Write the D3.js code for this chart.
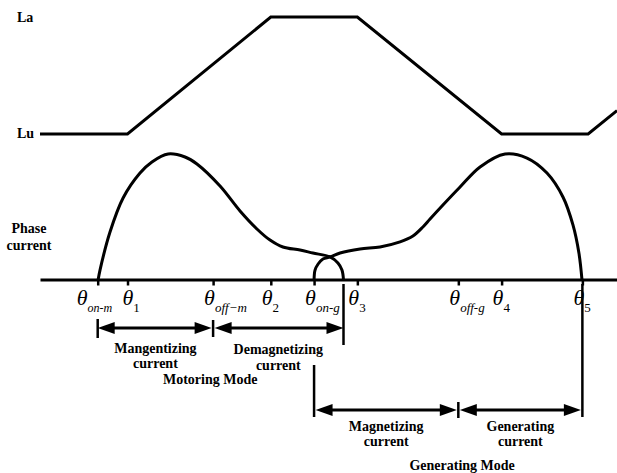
<!DOCTYPE html>
<html>
<head>
<meta charset="utf-8">
<script src="https://cdn.jsdelivr.net/npm/d3@7/dist/d3.min.js"></script>
<style>
  html, body { margin: 0; padding: 0; background: #fff; }
  svg { display: block; }
  text { font-family: "Liberation Serif", "Times New Roman", serif; fill: #000; }
  .lbl { font-weight: bold; font-size: 14px; }
</style>
</head>
<body>
<script>
// Rotor angle positions (arbitrary angle units) of the switching / profile points
const thetaSubs   = ["on-m", "1", "off\u2212m", "2", "on-g", "3", "off-g", "4", "5"];
const thetaAngles = [3.0, 4.55, 9.0, 12.0, 14.25, 16.5, 21.75, 24.0, 28.2];
const thetaItalicSub = [true, false, true, false, true, false, true, false, false];

// Phase inductance profile (0 = Lu, 1 = La)
const inductAngles = [0, 4.55, 12.0, 16.5, 24.0, 28.5, 30];
const inductValues = [0, 0, 1, 1, 0, 0, 0.2];
const inductLabels = ["Lu", "La"];

// Motoring phase current (normalised to its peak)
const motorAngles  = [3.02, 3.12, 3.64, 4.32, 5.20, 5.82, 6.66, 7.54, 8.16, 9.36, 10.40, 11.28, 11.96, 12.63, 13.52, 14.19, 15.08, 15.49, 15.70, 15.78];
const motorCurrent = [0, 0.079, 0.381, 0.651, 0.849, 0.937, 1.0, 0.976, 0.921, 0.746, 0.548, 0.405, 0.317, 0.262, 0.238, 0.214, 0.183, 0.135, 0.079, 0];

// Generating phase current (normalised to its peak)
const genAngles  = [14.25, 14.30, 14.46, 14.71, 15.08, 15.60, 16.64, 17.68, 18.72, 19.39, 19.91, 20.28, 20.95, 21.84, 22.88, 24.18, 25.32, 26.36, 27.19, 27.71, 28.02, 28.18];
const genCurrent = [0, 0.079, 0.127, 0.167, 0.183, 0.214, 0.246, 0.262, 0.302, 0.349, 0.421, 0.484, 0.595, 0.738, 0.897, 1.0, 0.968, 0.849, 0.659, 0.437, 0.214, 0];

// Conduction intervals
const motoringBounds   = [3.0, 9.0, 15.78];
const motoringLabels   = [["Mangentizing", "current"], ["Demagnetizing", "current"]];
const generatingBounds = [14.25, 21.75, 28.2];
const generatingLabels = [["Magnetizing", "current"], ["Generating", "current"]];
const modeNames  = ["Motoring Mode", "Generating Mode"];
const modeLabelAt = [8.85, 21.95];

const W = 617, H = 473;
const svg = d3.select("body").append("svg").attr("width", W).attr("height", H);

const x  = d3.scaleLinear().domain([0, 30]).range([40, 617]);
const yL = d3.scaleLinear().domain([0, 1]).range([134, 17]);
const yI = d3.scaleLinear().domain([0, 1]).range([280, 154]);
const axisY = yI(0);

// Inductance profile
const lineL = d3.line().x(d => x(d[0])).y(d => yL(d[1]));
svg.append("path")
  .attr("d", lineL(d3.zip(inductAngles, inductValues)))
  .attr("fill", "none").attr("stroke", "#000").attr("stroke-width", 3)
  .attr("stroke-linejoin", "miter");

svg.append("text").attr("class", "lbl").attr("x", 17).attr("y", yL(0) + 4).text(inductLabels[0]);
svg.append("text").attr("class", "lbl").attr("x", 17).attr("y", yL(1) + 5).text(inductLabels[1]);

// Phase current label
const pc = svg.append("text").attr("class", "lbl").attr("text-anchor", "middle");
pc.append("tspan").attr("x", 29).attr("y", 233).text("Phase");
pc.append("tspan").attr("x", 29).attr("y", 250).text("current");

// Angle axis with ticks at the switching angles
const axis = d3.axisBottom(x).tickValues(thetaAngles).tickSize(6).tickSizeOuter(0).tickFormat("");
const gAxis = svg.append("g").attr("transform", `translate(0,${axisY - 0.5})`).call(axis);
gAxis.select(".domain").attr("stroke", "#000").attr("stroke-width", 3);
gAxis.selectAll(".tick line").attr("stroke", "#000").attr("stroke-width", 2.5);

// Theta labels (the first two sit close together, so they are nudged apart)
const labelNudge = [-12, 4, 0, 0, 0, 0, 0, 0, 0];
thetaAngles.forEach((a, i) => {
  const t = svg.append("text").attr("x", x(a) - 9 + labelNudge[i]).attr("y", axisY + 25);
  t.append("tspan").attr("font-size", 22).attr("font-style", "italic").text("\u03B8");
  t.append("tspan").attr("font-size", i === 0 ? 12 : 13).attr("dy", 7)
    .attr("font-style", thetaItalicSub[i] ? "italic" : "normal")
    .text(thetaSubs[i]);
});

// Phase current curves
const lineI = d3.line().x(d => x(d[0])).y(d => yI(d[1])).curve(d3.curveCatmullRom.alpha(0.5));
[[motorAngles, motorCurrent], [genAngles, genCurrent]].forEach(([a, c]) => {
  svg.append("path")
    .attr("d", lineI(d3.zip(a, c)))
    .attr("fill", "none").attr("stroke", "#000").attr("stroke-width", 3);
});

// Double-headed interval arrows
function arrow(x0, x1, y) {
  const hl = 17, hw = 6;
  svg.append("line").attr("x1", x0 + hl - 2).attr("x2", x1 - hl + 2)
    .attr("y1", y).attr("y2", y).attr("stroke", "#000").attr("stroke-width", 3);
  svg.append("path").attr("d", `M${x0},${y}L${x0 + hl},${y - hw}L${x0 + hl},${y + hw}Z`).attr("fill", "#000");
  svg.append("path").attr("d", `M${x1},${y}L${x1 - hl},${y - hw}L${x1 - hl},${y + hw}Z`).attr("fill", "#000");
}
function vbar(xa, y0, y1) {
  svg.append("line").attr("x1", xa).attr("x2", xa).attr("y1", y0).attr("y2", y1)
    .attr("stroke", "#000").attr("stroke-width", 2.5);
}

// Motoring mode intervals
const mRow = 328;
vbar(x(motoringBounds[0]), mRow - 9, mRow + 10);
vbar(x(motoringBounds[1]), mRow - 8, mRow + 9);
vbar(x(motoringBounds[2]), axisY + 4, mRow + 17);
for (let i = 0; i < 2; i++) {
  const a = x(motoringBounds[i]) + (i ? 1.5 : 0), b = x(motoringBounds[i + 1]) - (i ? 0 : 1.5);
  arrow(a, b, mRow);
  const cx = (x(motoringBounds[i]) + x(motoringBounds[i + 1])) / 2;
  const t = svg.append("text").attr("class", "lbl").attr("text-anchor", "middle");
  t.append("tspan").attr("x", cx).attr("y", mRow + 25 + i).text(motoringLabels[i][0]);
  t.append("tspan").attr("x", cx).attr("y", mRow + 40 + i * 2).text(motoringLabels[i][1]);
}
svg.append("text").attr("class", "lbl").attr("text-anchor", "middle")
  .attr("x", x(modeLabelAt[0])).attr("y", 384).text(modeNames[0]);

// Generating mode intervals
const gRow = 410;
vbar(x(generatingBounds[0]), 365, gRow + 7);
vbar(x(generatingBounds[1]), gRow - 8, gRow + 8);
vbar(x(generatingBounds[2]), axisY + 4, gRow + 7);
for (let i = 0; i < 2; i++) {
  const a = x(generatingBounds[i]) + 1.5, b = x(generatingBounds[i + 1]) - 1.5;
  arrow(a, b, gRow);
  const cx = (x(generatingBounds[i]) + x(generatingBounds[i + 1])) / 2;
  const t = svg.append("text").attr("class", "lbl").attr("text-anchor", "middle");
  t.append("tspan").attr("x", cx).attr("y", gRow + 21).text(generatingLabels[i][0]);
  t.append("tspan").attr("x", cx).attr("y", gRow + 36).text(generatingLabels[i][1]);
}
svg.append("text").attr("class", "lbl").attr("text-anchor", "middle")
  .attr("x", x(modeLabelAt[1])).attr("y", 470).text(modeNames[1]);
</script>
</body>
</html>
